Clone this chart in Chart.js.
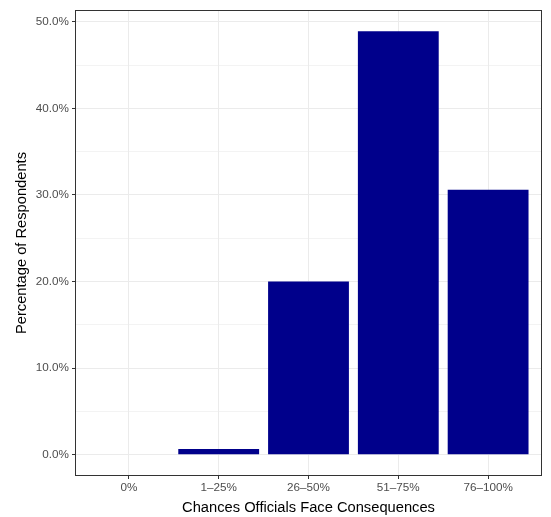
<!DOCTYPE html>
<html>
<head>
<meta charset="utf-8">
<script src="https://cdn.jsdelivr.net/npm/chart.js@4"></script>
<style>
  html, body { margin: 0; padding: 0; background: #fff; }
  #wrap { width: 551px; height: 517px; position: relative; }
</style>
</head>
<body>
<div id="wrap"><canvas id="chart"></canvas></div>
<script>
const categories = ['0%', '1\u201325%', '26\u201350%', '51\u201375%', '76\u2013100%'];
const percents = [0, 0.66, 20.0, 48.9, 30.6];
const yTicks = [0, 5, 10, 15, 20, 25, 30, 35, 40, 45, 50];

const FONT = '"Liberation Sans", Arial, sans-serif';

const panelBorder = {
  id: 'panelBorder',
  afterDraw(chart) {
    const a = chart.chartArea;
    const ctx = chart.ctx;
    ctx.save();
    ctx.strokeStyle = '#333333';
    ctx.lineWidth = 1;
    ctx.strokeRect(Math.round(a.left) + 0.5, Math.round(a.top) + 0.5,
      Math.round(a.right - a.left) - 1, Math.round(a.bottom - a.top) - 1);
    ctx.restore();
  }
};

new Chart(document.getElementById('chart'), {
  type: 'bar',
  data: {
    datasets: [{
      data: percents.map((v, i) => ({ x: i, y: v })),
      backgroundColor: '#00008b',
      categoryPercentage: 1,
      barPercentage: 0.9
    }]
  },
  options: {
    responsive: true,
    maintainAspectRatio: false,
    animation: false,
    layout: { padding: { top: 10, right: 9, left: 0, bottom: 0 } },
    plugins: { legend: { display: false }, tooltip: { enabled: false } },
    scales: {
      x: {
        type: 'linear',
        offset: false,
        min: -0.6,
        max: 4.6,
        afterBuildTicks: (s) => { s.ticks = categories.map((c, i) => ({ value: i })); },
        afterFit: (s) => { s.height = 41; },
        grid: { offset: false, color: '#ebebeb', lineWidth: 1, tickLength: 3, tickColor: '#333333' },
        border: { display: false },
        ticks: {
          color: '#4d4d4d',
          font: { family: FONT, size: 11.7 },
          padding: 2,
          maxRotation: 0,
          callback: (v) => categories[v]
        },
        title: {
          display: true,
          text: 'Chances Officials Face Consequences',
          color: '#000',
          font: { family: FONT, size: 14.7 },
          padding: { top: 0, bottom: 0 }
        }
      },
      y: {
        min: -2.45,
        max: 51.35,
        afterBuildTicks: (s) => { s.ticks = yTicks.map(v => ({ value: v })); },
        afterFit: (s) => { s.width = 75; },
        grid: {
          color: '#ebebeb',
          lineWidth: (c) => (c.tick && c.tick.value % 10 === 0 ? 1 : 0.6),
          tickLength: 3,
          tickColor: (c) => (c.tick && c.tick.value % 10 === 0 ? '#333333' : 'rgba(0,0,0,0)')
        },
        border: { display: false },
        ticks: {
          color: '#4d4d4d',
          font: { family: FONT, size: 11.7 },
          padding: 3,
          callback: (v) => (v % 10 === 0 ? v.toFixed(1) + '%' : '')
        },
        title: {
          display: true,
          text: 'Percentage of Respondents',
          color: '#000',
          font: { family: FONT, size: 14.7 },
          padding: { top: 13, bottom: 4 }
        }
      }
    }
  },
  plugins: [panelBorder]
});
</script>
</body>
</html>
